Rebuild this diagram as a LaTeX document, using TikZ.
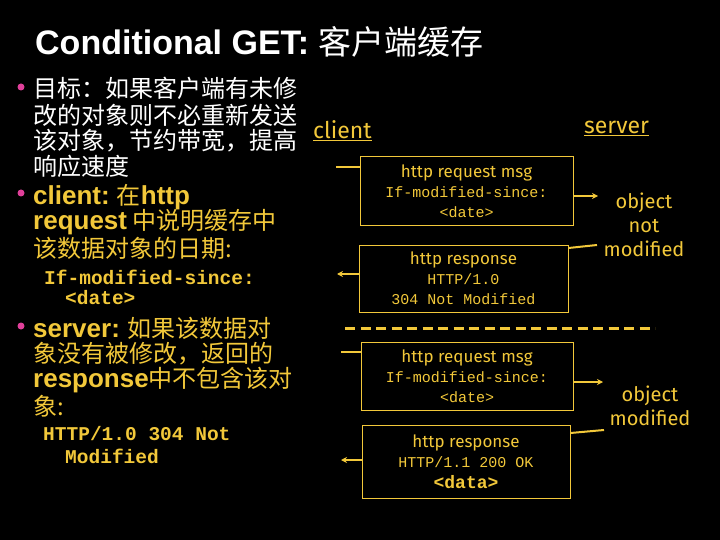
\documentclass[tikz,border=0pt]{standalone}
\usepackage{fontspec}
\usetikzlibrary{arrows.meta}
\setmainfont{Liberation Sans}
\newfontfamily\cjk{Noto Sans CJK SC}
\newfontfamily\mono{Liberation Mono}
\newfontfamily\lab{Fira Sans}
\definecolor{yel}{HTML}{F2C83A}
\definecolor{pk}{HTML}{E0409A}
\newcommand\bw[1]{{\fontsize{26}{26}\selectfont\rmfamily\bfseries #1}}
\begin{document}
\begin{tikzpicture}[x=1pt,y=-1pt,
  txt/.style={anchor=west,inner sep=0pt},
  cn/.style={txt,font=\fontsize{24}{24}\selectfont\cjk},
  mo/.style={txt,font=\fontsize{19.5}{19.5}\selectfont\mono\bfseries,text=yel},
  bx/.style={draw=yel,line width=1pt,align=center,text=yel,inner sep=0pt,font=\fontsize{15}{20}\selectfont\mono},
  ar/.style={yel,line width=2pt,-{Stealth[length=6pt,width=6pt]}},
  ln/.style={yel,line width=2pt},
  bul/.style={circle,fill=pk,inner sep=0pt,minimum size=7pt}]
\fill[black] (0,0) rectangle (720,540);
\node[txt,text=white,font=\fontsize{34}{34}\selectfont\bfseries] (title) at (35,42) {Conditional GET: {\cjk\mdseries\fontsize{33}{33}\selectfont 客户端缓存}};
\node[bul] (b1) at (21,87) {};
\node[bul] (b2) at (21,193) {};
\node[bul] (b3) at (21,326) {};
\node[cn,text=white] (l1) at (33,88) {目标：如果客户端有未修};
\node[cn,text=white] (l2) at (33,115) {改的对象则不必重新发送};
\node[cn,text=white] (l3) at (33,141) {该对象，节约带宽，提高};
\node[cn,text=white] (l4) at (33,166) {响应速度};
\node[cn,text=yel] (c1) at (33,197) {\bw{client:} 在\bw{http}};
\node[cn,text=yel] (c2) at (33,222) {\bw{request} 中说明缓存中};
\node[cn,text=yel] (c3) at (33,248) {该数据对象的日期:};
\node[mo] (m1) at (44,277) {If-modified-since:};
\node[mo] (m2) at (65,298) {<date>};
\node[cn,text=yel] (s1) at (33,328) {\bw{server:} 如果该数据对};
\node[cn,text=yel] (s2) at (33,354) {象没有被修改，返回的};
\node[cn,text=yel] (s3) at (33,380) {\bw{response}中不包含该对};
\node[cn,text=yel] (s4) at (33,406) {象:};
\node[mo] (m3) at (43,434) {HTTP/1.0 304 Not};
\node[mo] (m4) at (65,456) {Modified};
% diagram
\node[txt,text=yel,font=\fontsize{23}{23}\selectfont\lab] (cl) at (313,131) {\underline{client}};
\node[txt,text=yel,font=\fontsize{23}{23}\selectfont\lab] (sv) at (584,128) {\underline{server}};
\node[bx,minimum width=213pt,minimum height=69pt] (r1) at (466.5,191.5) {{\lab\fontsize{17}{20}\selectfont http request msg}\\If-modified-since:\\<date>};
\node[bx,minimum width=209pt,minimum height=67pt] (p1) at (463.5,278.5) {{\lab\fontsize{17}{20}\selectfont http response}\\HTTP/1.0\\304 Not Modified};
\node[bx,minimum width=212pt,minimum height=68pt] (r2) at (467,376) {{\lab\fontsize{17}{20}\selectfont http request msg}\\If-modified-since:\\<date>};
\node[bx,minimum width=208pt,minimum height=73pt] (p2) at (466,461.5) {{\lab\fontsize{17}{20}\selectfont http response}\\HTTP/1.1 200 OK\\[1pt]{\fontsize{18}{20}\selectfont\bfseries <data>}};
\node[txt,anchor=center,align=center,text=yel,font=\fontsize{20}{24}\selectfont\lab] (nm) at (644,225) {object\\not\\modified};
\node[txt,anchor=center,align=center,text=yel,font=\fontsize{20}{24}\selectfont\lab] (om) at (650,406) {object\\modified};
\coordinate (a1) at (336,167);
\coordinate (a2) at (598,196);
\coordinate (a3) at (597,245);
\coordinate (a4) at (337,274);
\coordinate (a5) at (341,352);
\coordinate (a6) at (603,382);
\coordinate (a7) at (604,430);
\coordinate (a8) at (341,460);
\draw[ln] (a1) -- (r1.west |- a1);
\draw[ar] (r1.east |- a2) -- (a2);
\draw[ln] (a3) -- (p1.east |- 0,248);
\draw[ar] (p1.west |- a4) -- (a4);
\draw[ln] (a5) -- (r2.west |- a5);
\draw[ar] (r2.east |- a6) -- (a6);
\draw[ln] (a7) -- (p2.east |- 0,433);
\draw[ar] (p2.west |- a8) -- (a8);
\coordinate (d1) at (345,328);
\coordinate (d2) at (655,328);
\draw[yel,line width=3pt,dash pattern=on 10pt off 5.5pt] (d1) -- (d2);
\end{tikzpicture}
\end{document}
